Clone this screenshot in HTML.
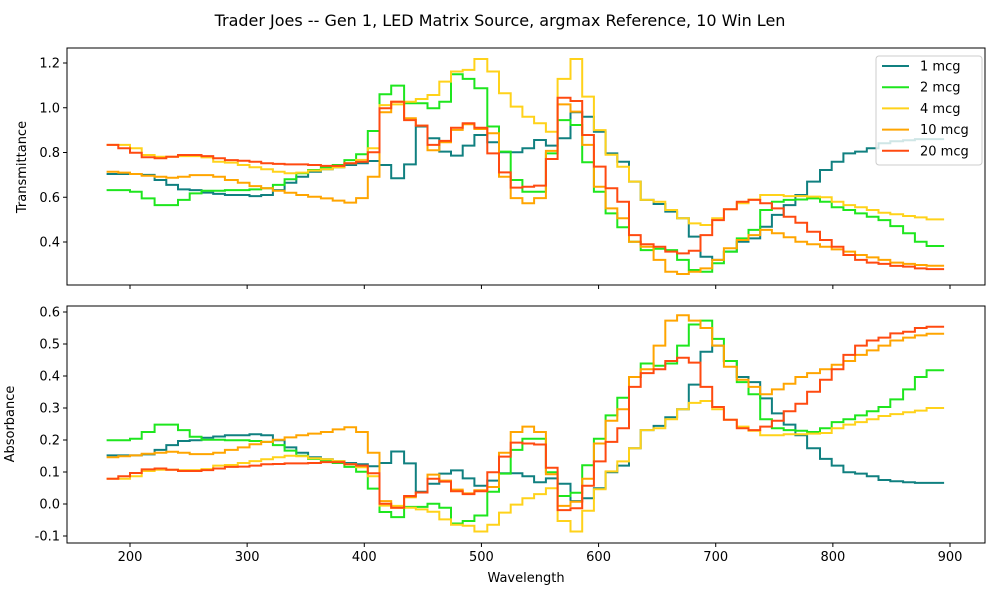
<!DOCTYPE html>
<html><head><meta charset="utf-8"><style>
html,body{margin:0;padding:0;background:#fff;}
svg{display:block;font-family:"DejaVu Sans","Liberation Sans",sans-serif;}
</style></head><body>
<svg id="fig" width="1000" height="600" viewBox="0 0 1000 600" xmlns="http://www.w3.org/2000/svg">
<rect width="1000" height="600" fill="#fff"/>
<text x="500" y="26" text-anchor="middle" font-size="16" fill="#000">Trader Joes -- Gen 1, LED Matrix Source, argmax Reference, 10 Win Len</text>
<g id="top"></g>
<g id="bot"></g>
<text transform="translate(26,167) rotate(-90)" text-anchor="middle" font-size="13">Transmittance</text>
<text transform="translate(14,424) rotate(-90)" text-anchor="middle" font-size="13">Absorbance</text>
<text x="526" y="582" text-anchor="middle" font-size="13">Wavelength</text>
<g id="legend"></g>
</svg>
<script>
const wavelengths = [180,190,200,210,221,231,241,251,261,271,281,292,302,312,322,332,342,352,363,373,383,393,403,413,423,434,444,454,464,474,484,494,505,515,525,535,545,555,565,576,586,596,606,616,626,636,647,657,667,677,687,697,707,718,728,738,748,758,768,778,789,799,809,819,829,839,849,860,870,880];
const wavelengthEnd = 895;
const seriesNames = ["1 mcg","2 mcg","4 mcg","10 mcg","20 mcg"];
const seriesColors = ["#108080","#1ee61e","#ffd21a","#ffa500","#ff4a10"];
const xTicks = [200,300,400,500,600,700,800,900];
const transTicks = [0.4,0.6,0.8,1.0,1.2];
const absTicks = [-0.1,0.0,0.1,0.2,0.3,0.4,0.5,0.6];

const trans1 = [0.704,0.704,0.704,0.70,0.677,0.655,0.635,0.632,0.621,0.615,0.61,0.61,0.605,0.61,0.632,0.665,0.692,0.714,0.725,0.734,0.744,0.752,0.762,0.744,0.685,0.747,0.916,0.864,0.804,0.786,0.831,0.878,0.846,0.801,0.801,0.819,0.856,0.831,0.864,0.98,0.96,0.893,0.796,0.759,0.67,0.588,0.57,0.536,0.506,0.424,0.334,0.32,0.357,0.401,0.416,0.468,0.521,0.565,0.61,0.67,0.722,0.759,0.796,0.804,0.819,0.841,0.85,0.855,0.86,0.86];
const trans2 = [0.632,0.632,0.625,0.595,0.565,0.565,0.588,0.617,0.629,0.629,0.632,0.632,0.635,0.64,0.655,0.68,0.707,0.722,0.734,0.744,0.766,0.792,0.896,1.06,1.099,1.02,1.02,0.998,1.027,1.15,1.129,1.087,0.916,0.804,0.677,0.625,0.625,0.796,0.945,0.923,0.756,0.625,0.528,0.466,0.401,0.364,0.37,0.364,0.32,0.275,0.267,0.305,0.357,0.416,0.454,0.543,0.58,0.588,0.59,0.595,0.58,0.555,0.543,0.528,0.513,0.498,0.471,0.439,0.401,0.382];
const trans4 = [0.834,0.834,0.819,0.789,0.781,0.781,0.784,0.784,0.778,0.759,0.755,0.744,0.734,0.725,0.714,0.707,0.71,0.719,0.725,0.734,0.752,0.767,0.819,1.012,1.015,1.027,1.039,1.057,1.117,1.162,1.169,1.218,1.162,1.065,1.005,0.96,0.931,0.893,1.129,1.218,1.05,0.90,0.79,0.736,0.67,0.588,0.58,0.543,0.506,0.483,0.476,0.506,0.546,0.573,0.59,0.61,0.61,0.605,0.605,0.603,0.60,0.58,0.565,0.555,0.543,0.531,0.524,0.516,0.51,0.501];
const trans10 = [0.714,0.71,0.704,0.696,0.692,0.687,0.692,0.699,0.699,0.692,0.677,0.665,0.65,0.64,0.629,0.62,0.61,0.602,0.595,0.585,0.576,0.596,0.692,0.98,1.027,0.953,0.92,0.81,0.846,0.901,0.926,0.905,0.886,0.692,0.596,0.573,0.596,0.807,1.015,0.983,0.834,0.647,0.55,0.506,0.401,0.379,0.32,0.267,0.257,0.267,0.282,0.32,0.372,0.409,0.431,0.454,0.439,0.421,0.401,0.39,0.379,0.367,0.357,0.342,0.331,0.32,0.308,0.302,0.297,0.294];
const trans20 = [0.834,0.819,0.799,0.779,0.774,0.781,0.789,0.789,0.784,0.774,0.766,0.763,0.759,0.752,0.749,0.747,0.747,0.744,0.74,0.74,0.752,0.759,0.801,0.998,1.027,0.945,0.92,0.834,0.852,0.911,0.931,0.911,0.796,0.711,0.643,0.647,0.652,0.771,1.045,1.03,0.878,0.737,0.64,0.58,0.431,0.39,0.379,0.357,0.349,0.361,0.431,0.498,0.546,0.58,0.588,0.573,0.55,0.513,0.486,0.446,0.409,0.379,0.342,0.32,0.308,0.302,0.293,0.29,0.282,0.279];

const abs1 = [0.152,0.152,0.152,0.155,0.169,0.184,0.197,0.199,0.207,0.211,0.215,0.215,0.218,0.215,0.199,0.177,0.160,0.146,0.140,0.134,0.128,0.124,0.118,0.128,0.164,0.127,0.038,0.063,0.095,0.105,0.080,0.057,0.073,0.096,0.096,0.087,0.068,0.080,0.063,0.009,0.018,0.049,0.099,0.120,0.174,0.231,0.244,0.271,0.296,0.373,0.476,0.495,0.447,0.397,0.381,0.330,0.283,0.248,0.215,0.174,0.141,0.120,0.099,0.095,0.087,0.075,0.071,0.068,0.066,0.066];
const abs2 = [0.199,0.199,0.204,0.225,0.248,0.248,0.231,0.210,0.201,0.201,0.199,0.199,0.197,0.194,0.184,0.167,0.151,0.141,0.134,0.128,0.116,0.101,0.048,-0.025,-0.041,-0.009,-0.009,0.001,-0.012,-0.061,-0.053,-0.036,0.038,0.095,0.169,0.204,0.204,0.099,0.025,0.035,0.121,0.204,0.277,0.332,0.397,0.439,0.432,0.439,0.495,0.561,0.573,0.516,0.447,0.381,0.343,0.265,0.237,0.231,0.229,0.225,0.237,0.256,0.265,0.277,0.290,0.303,0.327,0.358,0.397,0.418];
const abs4 = [0.079,0.079,0.087,0.103,0.107,0.107,0.106,0.106,0.109,0.120,0.122,0.128,0.134,0.140,0.146,0.151,0.149,0.143,0.140,0.134,0.124,0.115,0.087,-0.005,-0.006,-0.012,-0.017,-0.024,-0.048,-0.065,-0.068,-0.086,-0.065,-0.027,-0.002,0.018,0.031,0.049,-0.053,-0.086,-0.021,0.046,0.102,0.133,0.174,0.231,0.237,0.265,0.296,0.316,0.322,0.296,0.263,0.242,0.229,0.215,0.215,0.218,0.218,0.220,0.222,0.237,0.248,0.256,0.265,0.275,0.281,0.287,0.292,0.300];
const abs10 = [0.146,0.149,0.152,0.157,0.160,0.163,0.160,0.156,0.156,0.160,0.169,0.177,0.187,0.194,0.201,0.208,0.215,0.220,0.225,0.233,0.240,0.225,0.160,0.009,-0.012,0.021,0.036,0.092,0.073,0.045,0.033,0.043,0.053,0.160,0.225,0.242,0.225,0.093,-0.006,0.007,0.079,0.189,0.260,0.296,0.397,0.421,0.495,0.573,0.590,0.573,0.550,0.495,0.429,0.388,0.366,0.343,0.358,0.376,0.397,0.409,0.421,0.435,0.447,0.466,0.480,0.495,0.511,0.520,0.527,0.532];
const abs20 = [0.079,0.087,0.097,0.108,0.111,0.107,0.103,0.103,0.106,0.111,0.116,0.117,0.120,0.124,0.125,0.127,0.127,0.128,0.131,0.131,0.124,0.120,0.096,0.001,-0.012,0.025,0.036,0.079,0.070,0.040,0.031,0.040,0.099,0.148,0.192,0.189,0.186,0.113,-0.019,-0.013,0.057,0.133,0.194,0.237,0.366,0.409,0.421,0.447,0.457,0.442,0.366,0.303,0.263,0.237,0.231,0.242,0.260,0.290,0.313,0.351,0.388,0.421,0.466,0.495,0.511,0.520,0.533,0.538,0.550,0.554];

const NS = "http://www.w3.org/2000/svg";
const L = 67, R = 985;
function xScale(nm){ return 130 + (nm - 200) * (820/700); }
function mk(tag, attrs, parent){ const e = document.createElementNS(NS, tag); for (const k in attrs) e.setAttribute(k, attrs[k]); parent.appendChild(e); return e; }

function drawPanel(g, top, bottom, yScale, yTicks, fmt, series, label, showXLabels){
  // series lines
  series.forEach((vals, si) => {
    let d = "";
    for (let j = 0; j < vals.length; j++) {
      const x0 = xScale(wavelengths[j]);
      const x1 = xScale(j + 1 < wavelengths.length ? wavelengths[j+1] : wavelengthEnd);
      const y = yScale(vals[j]);
      d += (j === 0 ? "M" : "L") + x0.toFixed(1) + "," + y.toFixed(1) + "L" + x1.toFixed(1) + "," + y.toFixed(1);
    }
    const p = mk("path", {d: d, fill: "none", stroke: seriesColors[si], "stroke-width": 2, "stroke-linejoin": "miter"}, g);
    
    
  });
  // frame
  const fr = mk("rect", {x: L, y: top, width: R - L, height: bottom - top, fill: "none", stroke: "#000", "stroke-width": 1}, g);
  
  
  // y ticks
  yTicks.forEach(t => {
    const y = yScale(t);
    const tk = mk("line", {x1: L - 4, x2: L, y1: y, y2: y, stroke: "#000", "stroke-width": 1}, g);
    
    
    const tx = mk("text", {x: L - 7, y: y + 4.5, "text-anchor": "end", "font-size": 13}, g);
    tx.textContent = fmt(t);
    
    
  });
  // x ticks
  xTicks.forEach(t => {
    const x = xScale(t);
    const tk = mk("line", {x1: x, x2: x, y1: bottom, y2: bottom + 4, stroke: "#000", "stroke-width": 1}, g);
    
    
    if (showXLabels) {
      const tx = mk("text", {x: x, y: bottom + 18, "text-anchor": "middle", "font-size": 13}, g);
      tx.textContent = String(t);
      
      
    }
  });
}

const topY = v => 242 - (v - 0.4) * (179/0.8);
const botY = v => 504 - v * 320;
drawPanel(document.getElementById("top"), 48, 285, topY, transTicks, v => v.toFixed(1),
  [trans1, trans2, trans4, trans10, trans20], "transmittance", false);
drawPanel(document.getElementById("bot"), 306, 543, botY, absTicks, v => v.toFixed(1),
  [abs1, abs2, abs4, abs10, abs20], "absorbance", true);

// legend
const lg = document.getElementById("legend");
const box = mk("rect", {x: 876, y: 56, width: 106, height: 109, rx: 3, fill: "#fff", "fill-opacity": 0.8, stroke: "#ccc", "stroke-width": 1}, lg);


seriesNames.forEach((n, i) => {
  const y = 66 + i * 21.2;
  const ln = mk("line", {x1: 882, x2: 909, y1: y, y2: y, stroke: seriesColors[i], "stroke-width": 2}, lg);
  
  
  const tx = mk("text", {x: 920, y: y + 4.5, "font-size": 13}, lg);
  tx.textContent = n;
  
  
});
</script>
</body></html>
